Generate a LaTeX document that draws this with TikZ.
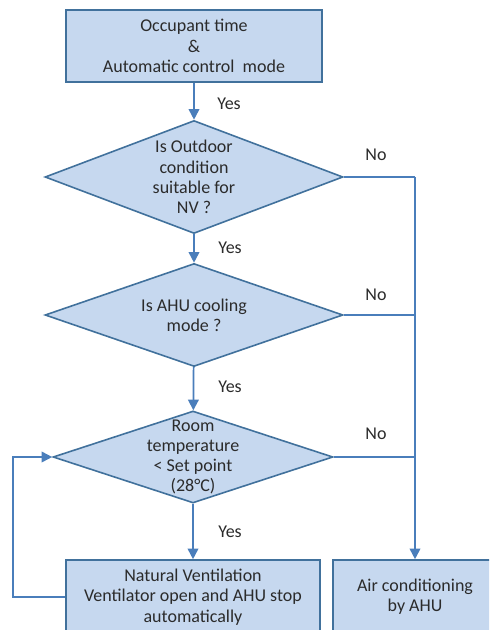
\documentclass[tikz,border=0pt]{standalone}
\usepackage{fontspec}
\setmainfont{Carlito}
\usepackage{tikz}
\usepackage{xcolor}
\usetikzlibrary{shapes.geometric, arrows.meta, positioning, calc}

\definecolor{boxfill}{HTML}{C6D8EF}
\definecolor{boxline}{HTML}{41719C}
\definecolor{flowline}{HTML}{4A7EBB}
\definecolor{txtgray}{HTML}{2B2B2B}

\begin{document}
\begin{tikzpicture}[x=0.75pt, y=-0.75pt,
    font=\fontsize{13.5}{15.2}\selectfont, text=txtgray,
    process/.style={rectangle, draw=boxline, fill=boxfill, line width=1.2pt,
        align=center, inner sep=0pt},
    decision/.style={diamond, draw=boxline, fill=boxfill, line width=1.2pt,
        inner sep=0pt},
    flow/.style={draw=flowline, line width=1.3pt},
    arr/.style={flow, -{Triangle[length=8pt, width=8pt]}}]
\useasboundingbox (0,0) rectangle (489,630);
\clip (0,0) rectangle (489,630);

% boxes and decisions
\node[process, minimum width=192pt, minimum height=54pt] (start) at (194,46)
    {Occupant time\\\&\\Automatic control\ \ mode};
\node[decision, minimum width=223.5pt, minimum height=84.75pt,
    label={[align=center]center:Is Outdoor\\condition\\suitable for\\NV ?}] (outdoor) at (194,177) {};
\node[decision, minimum width=223.5pt, minimum height=77.25pt,
    label={[align=center]center:Is AHU cooling\\mode ?}] (ahu) at (194,315) {};
\node[decision, minimum width=210pt, minimum height=69pt,
    label={[align=center]center:Room\\temperature\\< Set point\\(28\textdegree C)}] (room) at (193,457) {};
\node[process, minimum width=190.5pt, minimum height=55.5pt] (natvent) at (193,597)
    {Natural Ventilation\\Ventilator open and AHU stop\\automatically};
\node[process, minimum width=123pt, minimum height=55.5pt] (aircon) at (415,597)
    {Air conditioning\\by AHU};

% yes branch
\draw[arr] (start) -- (outdoor);
\draw[arr] (outdoor) -- (ahu);
\draw[arr] (ahu) -- (room);
\draw[arr] (room) -- (room |- natvent.north);
\node (yes1) at (229,104) {Yes};
\node (yes2) at (230,248) {Yes};
\node (yes3) at (230,387) {Yes};
\node (yes4) at (230,532) {Yes};

% no branch to the AHU
\coordinate (bus) at (415,177);
\draw[flow] (outdoor.east) -- (bus);
\draw[flow] (ahu.east) -- (ahu.east -| bus);
\draw[flow] (room.east) -- (room.east -| bus);
\draw[arr] (bus) -- (aircon.north);
\node (no1) at (376,155) {No};
\node (no2) at (376,295) {No};
\node (no3) at (376,434) {No};

% loop back
\draw[arr] (natvent.west) -- ++(-52,0) |- (room.west);
\end{tikzpicture}
\end{document}
